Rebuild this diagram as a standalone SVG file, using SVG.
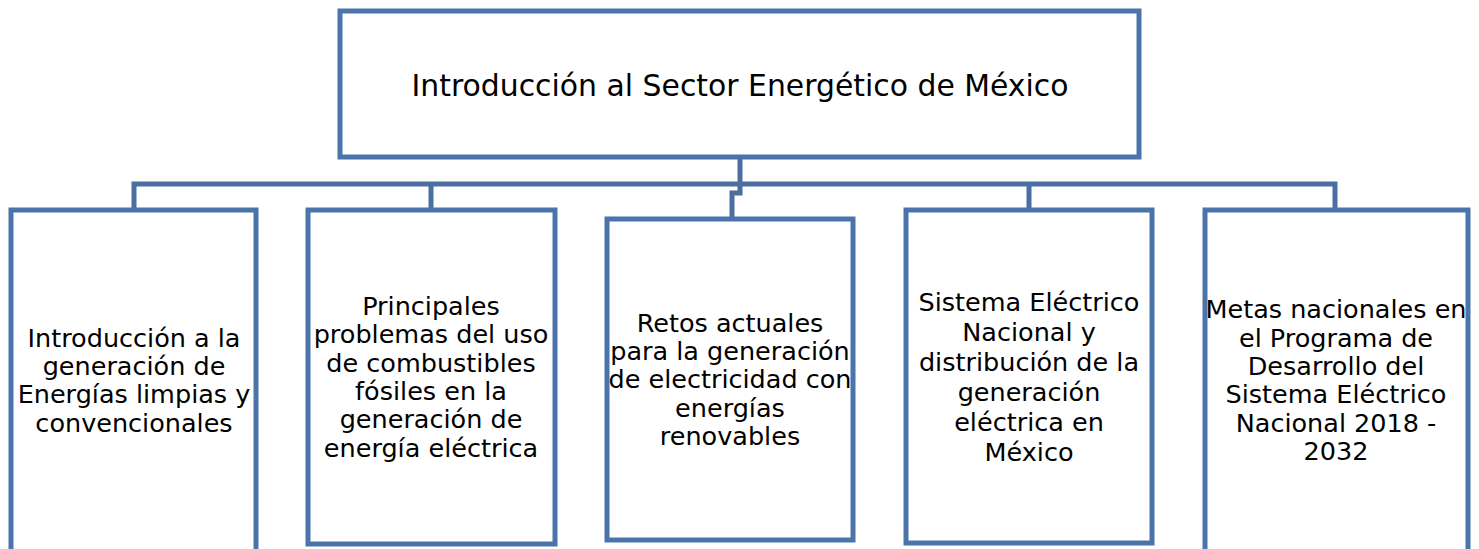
<svg xmlns="http://www.w3.org/2000/svg" width="1479" height="549" viewBox="0 0 1479 549">
<style>
.box{fill:#fff;stroke:#4A74AA;stroke-width:5}
.con{fill:none;stroke:#4A6FA0;stroke-width:5}
text{font-family:"DejaVu Sans","Liberation Sans",sans-serif;fill:#000;text-anchor:middle}
.t{font-size:30px}
.b{font-size:25.5px}
</style>
<rect width="1479" height="549" fill="#fff"/>
<g id="connectors">
<path class="con" d="M740 157 V184"/>
<path class="con" d="M134 210 V184 H1335 V210"/>
<path class="con" d="M431 184 V210"/>
<path class="con" d="M1029 184 V210"/>
<path class="con" d="M740 184 V193 H732 V219"/>
</g>
<g id="root">
<rect class="box" x="340" y="11" width="799" height="146"/>
<text class="t" x="740" y="96" textLength="657" lengthAdjust="spacingAndGlyphs">Introducción al Sector Energético de México</text>
</g>
<g id="n1">
<rect class="box" x="11" y="210" width="245" height="350"/>
<text class="b" x="134" y="347">Introducción a la</text>
<text class="b" x="134" y="375">generación de</text>
<text class="b" x="134" y="403">Energías limpias y</text>
<text class="b" x="134" y="432">convencionales</text>
</g>
<g id="n2">
<rect class="box" x="308" y="210" width="247" height="334"/>
<text class="b" x="431" y="315">Principales</text>
<text class="b" x="431" y="343">problemas del uso</text>
<text class="b" x="431" y="372">de combustibles</text>
<text class="b" x="431" y="400">fósiles en la</text>
<text class="b" x="431" y="428">generación de</text>
<text class="b" x="431" y="457">energía eléctrica</text>
</g>
<g id="n3">
<rect class="box" x="607" y="219" width="246" height="321"/>
<text class="b" x="730" y="332">Retos actuales</text>
<text class="b" x="730" y="360">para la generación</text>
<text class="b" x="730" y="388">de electricidad con</text>
<text class="b" x="730" y="417">energías</text>
<text class="b" x="730" y="445">renovables</text>
</g>
<g id="n4">
<rect class="box" x="906" y="210" width="246" height="333"/>
<text class="b" x="1029" y="311">Sistema Eléctrico</text>
<text class="b" x="1029" y="341">Nacional y</text>
<text class="b" x="1029" y="371">distribución de la</text>
<text class="b" x="1029" y="401">generación</text>
<text class="b" x="1029" y="431">eléctrica en</text>
<text class="b" x="1029" y="461">México</text>
</g>
<g id="n5">
<rect class="box" x="1205" y="210" width="263" height="350"/>
<text class="b" x="1336" y="318">Metas nacionales en</text>
<text class="b" x="1336" y="347">el Programa de</text>
<text class="b" x="1336" y="375">Desarrollo del</text>
<text class="b" x="1336" y="403">Sistema Eléctrico</text>
<text class="b" x="1336" y="432">Nacional 2018 -</text>
<text class="b" x="1336" y="460">2032</text>
</g>
</svg>
